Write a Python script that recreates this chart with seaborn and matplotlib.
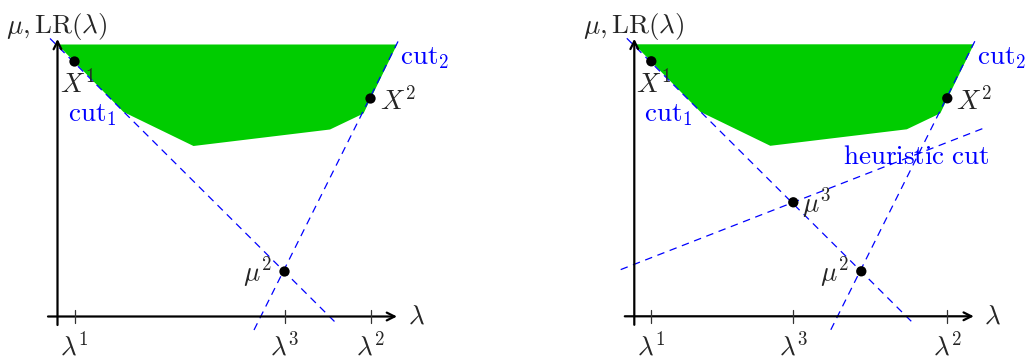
import matplotlib
matplotlib.use("Agg")
import matplotlib.pyplot as plt
import seaborn as sns
import numpy as np
import pandas as pd

sns.set_theme(style="white")
plt.rcParams["mathtext.fontset"] = "cm"
plt.rcParams["font.family"] = ["DejaVu Serif"]

# ---- data (shared geometry, units: arbitrary) ----
region_x = [0.0, 6.6, 13.6, 27.25, 30.6, 33.95]
region_y = [27.2, 20.45, 17.05, 18.7, 20.3, 27.2]

lam1, lam2 = 1.7, 31.3
lam3_left, lam3_right = 22.7, 15.9
X1 = (1.7, 25.5)
X2 = (31.3, 21.8)
mu2 = (22.7, 4.5)
mu3 = (15.9, 11.4)

cut1_x = [-0.75, 27.85]
cut1_y = [27.8, -0.65]
cut2_x = [19.65, 34.25]
cut2_y = [-1.35, 27.9]
heur_x = [-1.36, 35.24]
heur_y = [4.67, 18.93]

GREEN = "#00cc00"
BLUE = "#0000ff"
FS = 19.5

W, H = 1028, 363
fig = plt.figure(figsize=(W / 100, H / 100), dpi=100)

def make_ax(ox, oy):
    # ox, oy: pixel position of the origin
    x0, x1, y0, y1 = -3.0, 36.0, -4.5, 31.0
    left = (ox + 10 * x0) / W
    bottom = (H - (oy - 10 * y0)) / H
    ax = fig.add_axes([left, bottom, (x1 - x0) * 10 / W, (y1 - y0) * 10 / H])
    ax.set_xlim(x0, x1)
    ax.set_ylim(y0, y1)
    ax.axis("off")
    return ax

def draw_panel(ax, lam3, points, heuristic):
    ax.fill(region_x, region_y, color=GREEN, lw=0, zorder=1)
    lines = [(cut1_x, cut1_y), (cut2_x, cut2_y)]
    if heuristic:
        lines.append((heur_x, heur_y))
    for lx, ly in lines:
        sns.lineplot(x=lx, y=ly, ax=ax, color=BLUE, lw=0.9,
                     linestyle=(0, (6, 4.5)), zorder=3, sort=False)
    # axes arrows
    ax.annotate("", xy=(33.95, 0), xytext=(-0.95, 0),
                arrowprops=dict(arrowstyle="->", lw=1.6, color="black",
                                shrinkA=0, shrinkB=0, mutation_scale=14),
                zorder=5, annotation_clip=False)
    ax.annotate("", xy=(0, 27.75), xytext=(0, -0.85),
                arrowprops=dict(arrowstyle="->", lw=1.6, color="black",
                                shrinkA=0, shrinkB=0, mutation_scale=14),
                zorder=5, annotation_clip=False)
    ticks = [lam1, lam3, lam2]
    tlabels = [r"$\lambda^1$", r"$\lambda^3$", r"$\lambda^2$"]
    for t, lab in zip(ticks, tlabels):
        ax.plot([t, t], [-0.65, 0.65], color="#333333", lw=0.9, zorder=5)
        ax.text(t, -3.0, lab, ha="center", va="center", fontsize=FS)
    px = [p[0] for p in points]
    py = [p[1] for p in points]
    sns.scatterplot(x=px, y=py, ax=ax, color="black", s=55, zorder=6,
                    edgecolor="none")
    ax.text(-5.1, 28.95, r"$\mu, \mathrm{LR}(\lambda)$", ha="left", va="center",
            fontsize=FS, clip_on=False)
    ax.text(35.0, 0, r"$\lambda$", ha="left", va="center", fontsize=FS)
    ax.text(0.2, 23.3, r"$X^1$", ha="left", va="center", fontsize=FS, zorder=7)
    ax.text(1.0, 20.2, r"$\mathrm{cut}_1$", ha="left", va="center",
            fontsize=FS, color=BLUE, zorder=7)
    ax.text(32.2, 21.6, r"$X^2$", ha="left", va="center", fontsize=FS, zorder=7)
    ax.text(34.3, 25.9, r"$\mathrm{cut}_2$", ha="left", va="center",
            fontsize=FS, color=BLUE, zorder=7, clip_on=False)
    ax.text(21.4, 4.4, r"$\mu^2$", ha="right", va="center", fontsize=FS, zorder=7)
    if heuristic:
        ax.text(mu3[0] + 0.85, mu3[1] - 0.1, r"$\mu^3$", ha="left", va="center",
                fontsize=FS, zorder=7)
        ax.text(20.9, 15.95, r"$\mathrm{heuristic\ cut}$", ha="left",
                va="center", fontsize=FS, color=BLUE, zorder=7)

axL = make_ax(57.5, 316.5)
draw_panel(axL, lam3_left, [X1, X2, mu2], heuristic=False)
axR = make_ax(634.3, 316.3)
draw_panel(axR, lam3_right, [X1, X2, mu2, mu3], heuristic=True)

fig.savefig("out.png", dpi=100)
